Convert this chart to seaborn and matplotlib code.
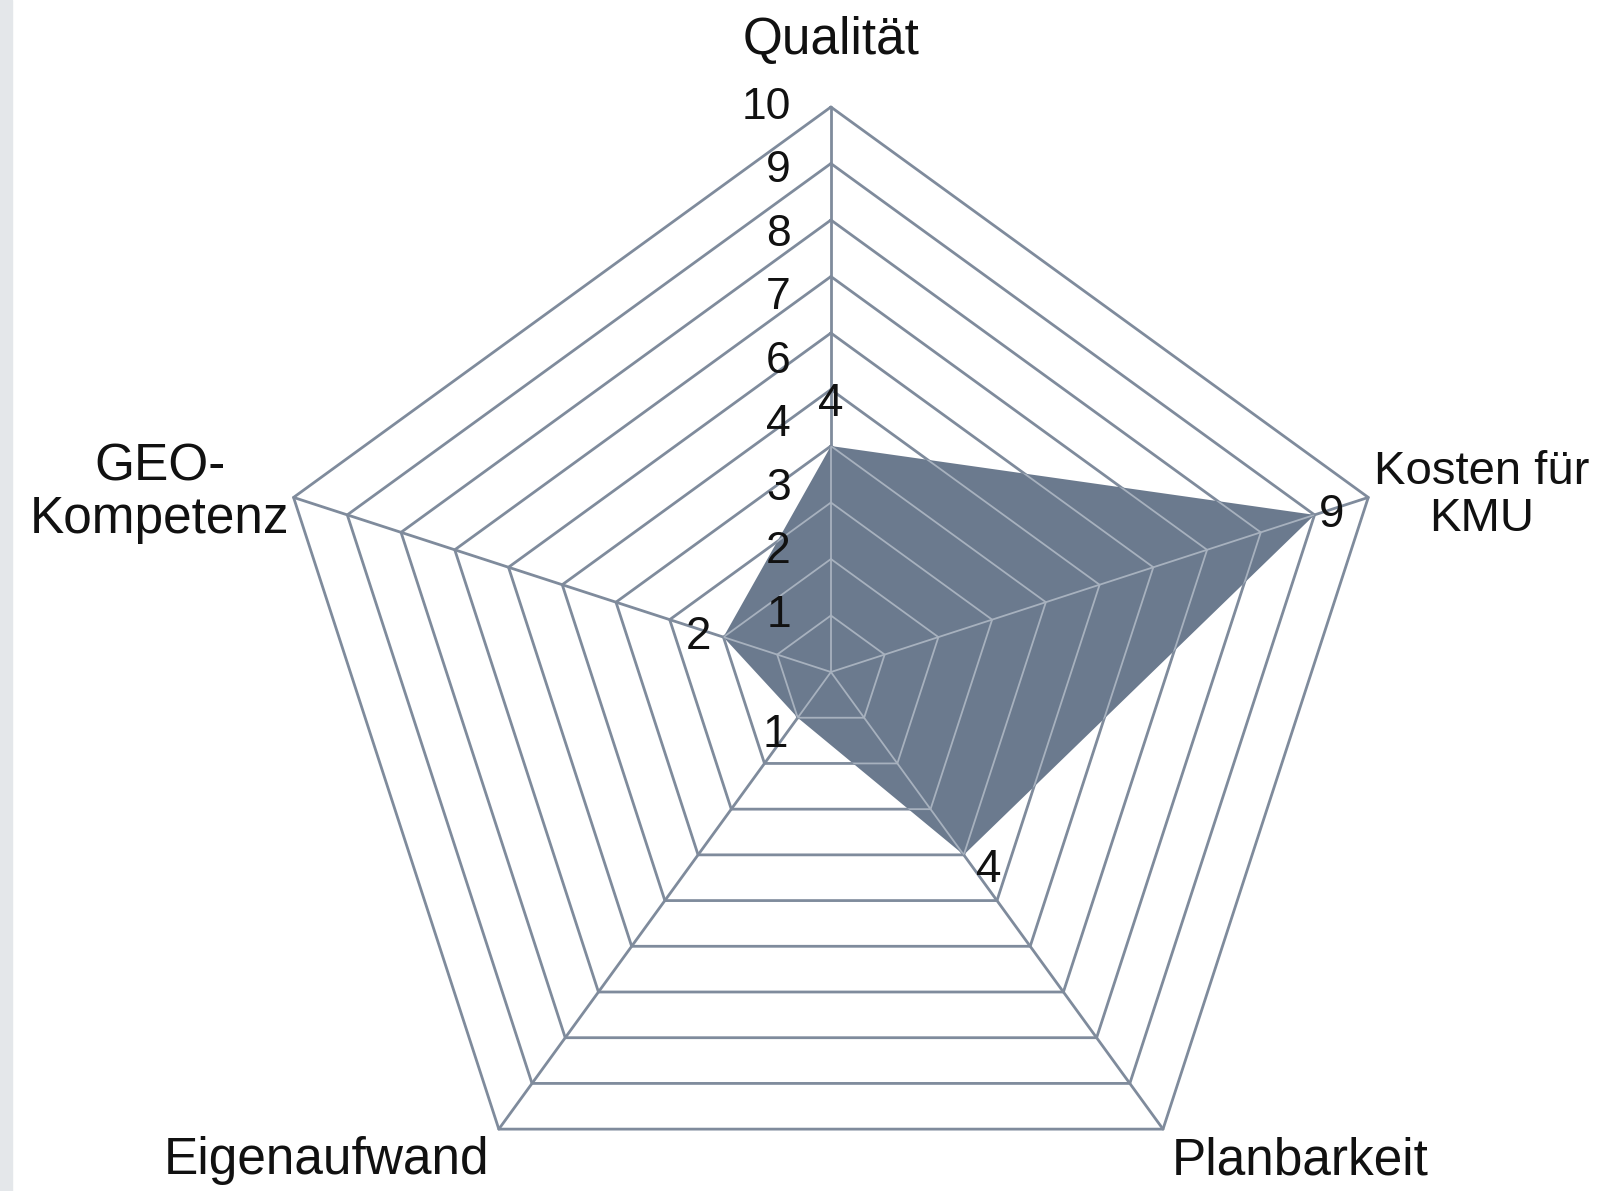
import numpy as np
import matplotlib
matplotlib.use("Agg")
import matplotlib.pyplot as plt
from matplotlib.patches import Rectangle
import seaborn as sns

# data
categories = ["Qualität", "Kosten für\nKMU", "Planbarkeit", "Eigenaufwand", "GEO-\nKompetenz"]
values = [4, 9, 4, 1, 2]
rings = [1, 2, 3, 4, 5, 6, 7, 8, 9, 10]
tick_labels = ["10", "9", "8", "7", "6", "4", "3", "2", "1"]

sns.set_theme(style="white")
plt.rcParams["font.family"] = ["Liberation Sans", "DejaVu Sans"]

grid_col = "#7f8b9c"
grid_in = "#a7b1be"
fill_col = "#6b7a8e"

fig = plt.figure(figsize=(16.24, 11.91), dpi=100)
fig.patches.append(Rectangle((0, 0), 12 / 1624, 1, transform=fig.transFigure,
                             color="#e4e7ea", zorder=0))
ax = fig.add_axes([0.1533, -0.0529, 0.7167, 0.9773], projection="polar")
ax.set_theta_offset(np.pi / 2)
ax.set_theta_direction(-1)
ax.set_ylim(0, 10.3)
ax.axis("off")

n = len(categories)
angles = np.linspace(0, 2 * np.pi, n, endpoint=False)
closed = np.append(angles, angles[0])

# grid below fill
for r in rings:
    ax.plot(closed, [r] * (n + 1), color=grid_col, lw=2.0, zorder=1, clip_on=False)
for a in angles:
    ax.plot([a, a], [0, rings[-1]], color=grid_col, lw=2.0, zorder=1, clip_on=False)

# data polygon
vals = np.append(values, values[0])
poly = ax.fill(closed, vals, color=fill_col, alpha=1.0, zorder=2, lw=0)[0]

# lighter grid on top of fill, clipped to polygon
for r in rings:
    ln, = ax.plot(closed, [r] * (n + 1), color=grid_in, lw=1.3, zorder=3)
    ln.set_clip_path(poly)
for a in angles:
    ln, = ax.plot([a, a], [0, rings[-1]], color=grid_in, lw=1.3, zorder=3)
    ln.set_clip_path(poly)

# radial tick labels (evenly spaced as in the original)
for lab, r in zip(tick_labels, np.linspace(10, 1, len(tick_labels))):
    ax.annotate(lab, xy=(0, r), xytext=(-40, 0), textcoords="offset pixels",
                ha="right", va="center", fontsize=32, color="#111111",
                annotation_clip=False)

# category labels
cat_off = [(0, 42, "center", "bottom", 37), (6, 2, "left", "center", 34),
           (137, -7, "center", "top", 37), (-172, -7, "center", "top", 37),
           (-4, 4, "right", "center", 37)]
for a, lab, (dx, dy, ha, va, fs) in zip(angles, categories, cat_off):
    ax.annotate(lab, xy=(a, 10), xytext=(dx, dy), textcoords="offset pixels",
                ha=ha, va=va, multialignment="center", fontsize=fs,
                color="#111111", linespacing=1.1, annotation_clip=False)

# value labels
val_off = [(0, 20, "center", "bottom"), (4, 0, "left", "center"),
           (12, -15, "left", "center"), (-10, -17, "right", "center"),
           (-12, 0, "right", "center")]
for a, v, (dx, dy, ha, va) in zip(angles, values, val_off):
    ax.annotate(str(v), xy=(a, v), xytext=(dx, dy), textcoords="offset pixels",
                ha=ha, va=va, fontsize=33, color="#111111", zorder=5,
                annotation_clip=False)

fig.savefig("out.png", dpi=100, facecolor="white")
